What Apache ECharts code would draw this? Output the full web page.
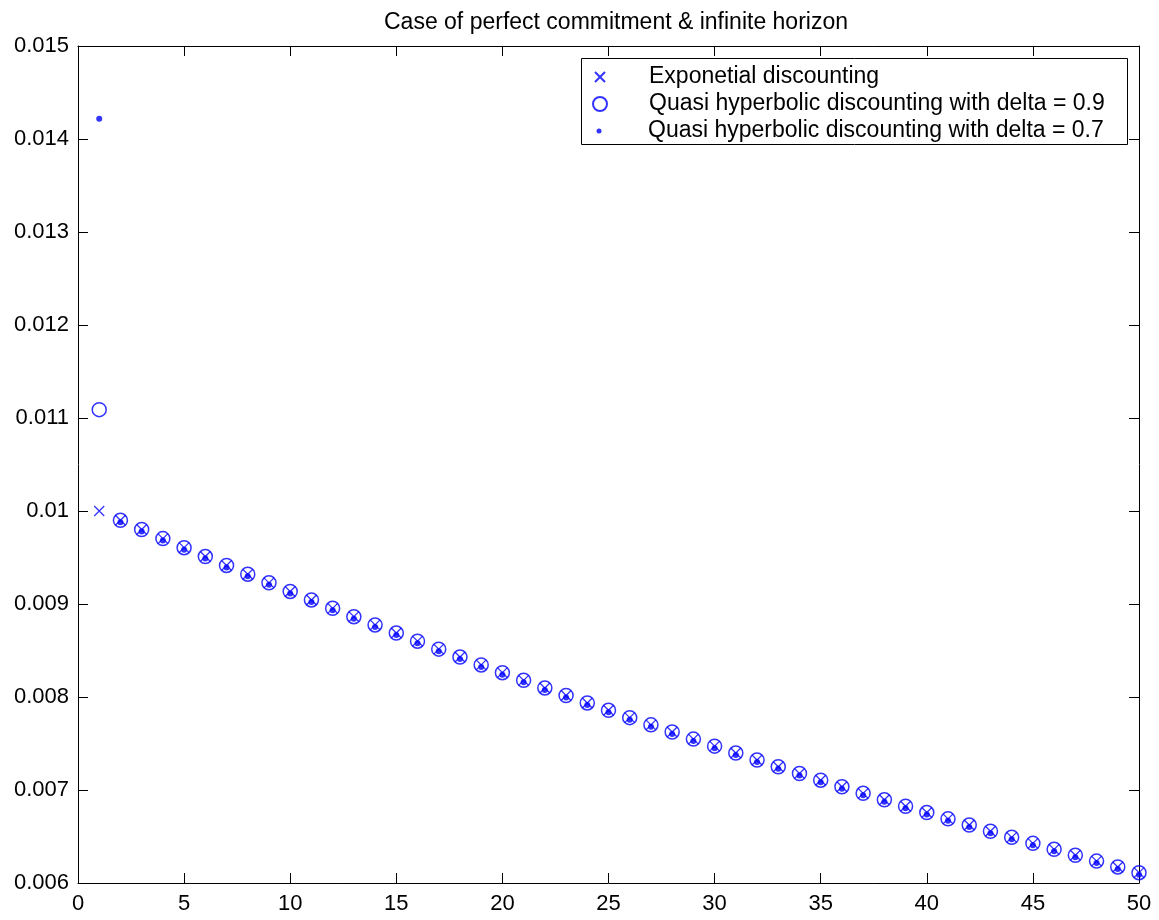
<!DOCTYPE html>
<html>
<head>
<meta charset="utf-8">
<script src="https://cdn.jsdelivr.net/npm/echarts@6/dist/echarts.min.js"></script>
<style>
  html, body { margin: 0; padding: 0; background: #fff; }
  #chart { width: 1159px; height: 920px; }
</style>
</head>
<body>
<div id="chart"></div>
<script>
// periods 1..50
const periods = [1, 2, 3, 4, 5, 6, 7, 8, 9, 10, 11, 12, 13, 14, 15, 16, 17, 18, 19, 20,
  21, 22, 23, 24, 25, 26, 27, 28, 29, 30, 31, 32, 33, 34, 35, 36, 37, 38, 39, 40,
  41, 42, 43, 44, 45, 46, 47, 48, 49, 50]

const expDiscount = [0.01, 0.0099, 0.009801, 0.00970299, 0.00960596, 0.0095099, 0.0094148, 0.00932065, 0.00922745, 0.00913517,
  0.00904382, 0.00895338, 0.00886385, 0.00877521, 0.00868746, 0.00860058, 0.00851458, 0.00842943, 0.00834514, 0.00826169,
  0.00817907, 0.00809728, 0.00801631, 0.00793614, 0.00785678, 0.00777821, 0.00770043, 0.00762343, 0.00754719, 0.00747172,
  0.007397, 0.00732303, 0.0072498, 0.0071773, 0.00710553, 0.00703447, 0.00696413, 0.00689449, 0.00682554, 0.00675729,
  0.00668971, 0.00662282, 0.00655659, 0.00649102, 0.00642611, 0.00636185, 0.00629823, 0.00623525, 0.0061729, 0.00611117]

const quasiDelta09 = [0.01109, 0.0099, 0.009801, 0.00970299, 0.00960596, 0.0095099, 0.0094148, 0.00932065, 0.00922745, 0.00913517,
  0.00904382, 0.00895338, 0.00886385, 0.00877521, 0.00868746, 0.00860058, 0.00851458, 0.00842943, 0.00834514, 0.00826169,
  0.00817907, 0.00809728, 0.00801631, 0.00793614, 0.00785678, 0.00777821, 0.00770043, 0.00762343, 0.00754719, 0.00747172,
  0.007397, 0.00732303, 0.0072498, 0.0071773, 0.00710553, 0.00703447, 0.00696413, 0.00689449, 0.00682554, 0.00675729,
  0.00668971, 0.00662282, 0.00655659, 0.00649102, 0.00642611, 0.00636185, 0.00629823, 0.00623525, 0.0061729, 0.00611117]

const quasiDelta07 = [0.01424, 0.0099, 0.009801, 0.00970299, 0.00960596, 0.0095099, 0.0094148, 0.00932065, 0.00922745, 0.00913517,
  0.00904382, 0.00895338, 0.00886385, 0.00877521, 0.00868746, 0.00860058, 0.00851458, 0.00842943, 0.00834514, 0.00826169,
  0.00817907, 0.00809728, 0.00801631, 0.00793614, 0.00785678, 0.00777821, 0.00770043, 0.00762343, 0.00754719, 0.00747172,
  0.007397, 0.00732303, 0.0072498, 0.0071773, 0.00710553, 0.00703447, 0.00696413, 0.00689449, 0.00682554, 0.00675729,
  0.00668971, 0.00662282, 0.00655659, 0.00649102, 0.00642611, 0.00636185, 0.00629823, 0.00623525, 0.0061729, 0.00611117]

const seriesNames = [
  'Exponetial discounting',
  'Quasi hyperbolic discounting with delta = 0.9',
  'Quasi hyperbolic discounting with delta = 0.7'
]

const BLUE = '#0000ff'
const FONT = 'Liberation Sans, Arial, sans-serif'
const CROSS = 'path://M0,0L10,10M10,0L0,10'

function pairs(ys) {
  return periods.map((x, i) => [x, ys[i]])
}

const axisCommon = {
  type: 'value',
  axisLine: { show: true, onZero: false, lineStyle: { color: '#000', width: 1 } },
  axisTick: { show: true, inside: true, length: 10, lineStyle: { color: '#000' } },
  splitLine: { show: false }
}

// legend rows: icon, icon size, spacer so that text starts at x = 648
const legendIcons = [CROSS, 'circle', 'circle']
const legendSizes = [10, 14, 5]
const legendRowY = [75, 102, 129]

const chart = echarts.init(document.getElementById('chart'))

chart.setOption({
  animation: false,
  backgroundColor: '#fff',
  title: {
    text: 'Case of perfect commitment & infinite horizon',
    left: 611,
    textAlign: 'center',
    top: 6,
    textStyle: { fontFamily: FONT, fontSize: 23, fontWeight: 'normal', color: '#000' }
  },
  grid: { left: 78, right: 20, top: 46, bottom: 37 },
  xAxis: [
    Object.assign({}, axisCommon, {
      min: 0, max: 50, interval: 5, position: 'bottom',
      axisLabel: { color: '#000', fontFamily: FONT, fontSize: 22, margin: 10 }
    }),
    Object.assign({}, axisCommon, {
      min: 0, max: 50, interval: 5, position: 'top',
      axisLabel: { show: false }
    })
  ],
  yAxis: [
    Object.assign({}, axisCommon, {
      min: 0.006, max: 0.015, interval: 0.001, position: 'left',
      axisLabel: {
        color: '#000', fontFamily: FONT, fontSize: 22, margin: 9,
        formatter: function(v) { return String(+v.toFixed(4)) }
      }
    }),
    Object.assign({}, axisCommon, {
      min: 0.006, max: 0.015, interval: 0.001, position: 'right',
      axisLabel: { show: false }
    })
  ],
  legend: [0, 1, 2].map(function(i) {
    const s = legendSizes[i]
    const left = 599 - s / 2
    const gap = 648 - (left + s + 5)
    return {
      data: [{ name: seriesNames[i], icon: legendIcons[i] }],
      left: left,
      top: legendRowY[i] - 10,
      padding: 0,
      itemWidth: s,
      itemHeight: s,
      formatter: '{g|}{name}'.replace('{name}', seriesNames[i]),
      textStyle: {
        color: '#000', fontFamily: FONT, fontSize: 23, lineHeight: 24,
        rich: { g: { width: gap, height: 1 } }
      },
      selectedMode: false
    }
  }),
  graphic: [{
    type: 'rect',
    shape: { x: 581.5, y: 58.5, width: 546, height: 86 },
    style: { fill: null, stroke: '#000', lineWidth: 1 },
    z: 0
  }],
  series: [
    {
      name: seriesNames[1],
      type: 'scatter',
      symbol: 'circle',
      symbolSize: 14,
      itemStyle: { color: 'rgba(0,0,0,0)', borderColor: BLUE, borderWidth: 1.5 },
      data: pairs(quasiDelta09),
      z: 2
    },
    {
      name: seriesNames[0],
      type: 'scatter',
      symbol: CROSS,
      symbolSize: 10,
      itemStyle: { color: BLUE, borderColor: BLUE, borderWidth: 1.3 },
      data: pairs(expDiscount),
      z: 3
    },
    {
      name: seriesNames[2],
      type: 'scatter',
      symbol: 'circle',
      symbolSize: 6,
      symbolOffset: [0, 2],
      itemStyle: { color: BLUE },
      data: pairs(quasiDelta07),
      z: 4
    }
  ]
})
</script>
</body>
</html>
